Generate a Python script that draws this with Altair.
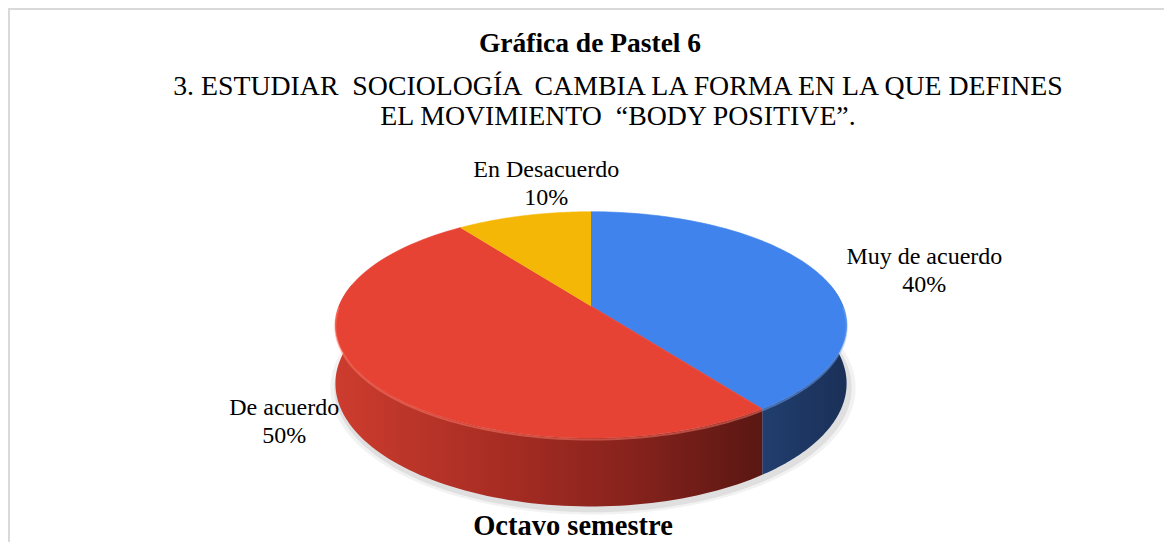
import altair as alt
import pandas as pd

# ---- data ----
categories = ["Muy de acuerdo", "De acuerdo", "En Desacuerdo"]
percentages = [40, 50, 10]
top_colors = ["#4083ED", "#E74335", "#F5B705"]
side_fills = [
    alt.LinearGradient(gradient="linear", x1=0, x2=1, y1=0, y2=0,
                       stops=[alt.GradientStop(color="#213E6E", offset=0),
                              alt.GradientStop(color="#1A3058", offset=1)]),
    alt.LinearGradient(gradient="linear", x1=0, x2=1, y1=0, y2=0,
                       stops=[alt.GradientStop(color="#CC3C2E", offset=0),
                              alt.GradientStop(color="#AB2E24", offset=0.35),
                              alt.GradientStop(color="#86221C", offset=0.7),
                              alt.GradientStop(color="#5A1713", offset=1)]),
    alt.LinearGradient(gradient="linear", x1=0, x2=1, y1=0, y2=0,
                       stops=[alt.GradientStop(color="#C99204", offset=0),
                              alt.GradientStop(color="#8F6703", offset=1)]),
]
rim_colors = ["#6FA3F5", "#FF7B6B", "#FFD25A"]

title_text = "Gráfica de Pastel 6"
NB = "\u00a0"
subtitle_line1 = f"3. ESTUDIAR {NB}SOCIOLOGÍA {NB}CAMBIA LA FORMA EN LA QUE DEFINES"
subtitle_line2 = f"EL MOVIMIENTO {NB}“BODY POSITIVE”."
footer_text = "Octavo semestre"

# ---- geometry / layout constants ----
W, H = 1156, 534
CX, CY, RX, RY, DEPTH, P = 583, 298, 252, 110, 57, 0.167
N = 90
SERIF = "Liberation Serif, Times New Roman, serif"

df = pd.DataFrame({"cat": categories, "pct": percentages, "idx": list(range(len(categories)))})
one = pd.DataFrame({"z": [0]})

xs = alt.Scale(domain=[0, W], nice=False, zero=False)
ys = alt.Scale(domain=[0, H], nice=False, zero=False, reverse=True)

base = (
    alt.Chart(df)
    .transform_window(cum="sum(pct)", sort=[alt.SortField("idx")], frame=[None, 0])
    .transform_joinaggregate(total="sum(pct)")
    .transform_calculate(
        a0="2*PI*(datum.cum - datum.pct)/datum.total",
        a1="2*PI*datum.cum/datum.total",
    )
)

S_EXPR = f"1/(1 + {P}*cos(datum.ang))"  # perspective factor


def enc(ch):
    return ch.encode(
        x=alt.X("px:Q", scale=xs, axis=None),
        y=alt.Y("py:Q", scale=ys, axis=None),
        order=alt.Order("k:Q"),
    )


layers = []

# soft shadow under the pie
for off, op in [(7, 0.05), (3, 0.08)]:
    sh = (
        base.transform_filter("datum.idx == 0")
        .transform_calculate(k=f"sequence(0, {2 * N + 1})")
        .transform_flatten(["k"])
        .transform_calculate(ang=f"2*PI*datum.k/{2 * N}")
        .transform_calculate(s=S_EXPR)
        .transform_calculate(
            px=f"{CX + 2} + {RX + off}*sin(datum.ang)*datum.s",
            py=f"{CY + 4} - {RY + off * 0.5}*cos(datum.ang)*datum.s + {DEPTH}*datum.s",
        )
        .mark_line(fill="#000000", fillOpacity=op, strokeWidth=0)
    )
    layers.append(enc(sh))

# side walls (front part only)
for c, f in zip(categories, side_fills):
    side = (
        base.transform_filter(alt.datum.cat == c)
        .transform_calculate(
            s0="max(datum.a0, PI/2 - 0.2)",
            s1="min(datum.a1, 3*PI/2 + 0.2)",
        )
        .transform_filter("datum.s1 > datum.s0")
        .transform_calculate(k=f"sequence(0, {2 * N + 2})")
        .transform_flatten(["k"])
        .transform_calculate(
            ang=f"datum.k <= {N} ? datum.s0 + (datum.s1 - datum.s0)*datum.k/{N} : "
                f"datum.s1 - (datum.s1 - datum.s0)*(datum.k - {N + 1})/{N}",
        )
        .transform_calculate(s=S_EXPR)
        .transform_calculate(
            px=f"{CX} + {RX}*sin(datum.ang)*datum.s",
            py=f"{CY} - {RY}*cos(datum.ang)*datum.s + (datum.k <= {N} ? 0 : {DEPTH}*datum.s)",
        )
        .mark_line(fill=f, strokeWidth=0)
    )
    layers.append(enc(side))

# top faces
for c, col in zip(categories, top_colors):
    top = (
        base.transform_filter(alt.datum.cat == c)
        .transform_calculate(k=f"sequence(-1, {N + 1})")
        .transform_flatten(["k"])
        .transform_calculate(ang=f"datum.a0 + (datum.a1 - datum.a0)*max(datum.k, 0)/{N}")
        .transform_calculate(s=S_EXPR)
        .transform_calculate(
            px=f"datum.k < 0 ? {CX} : {CX} + {RX}*sin(datum.ang)*datum.s",
            py=f"datum.k < 0 ? {CY} : {CY} - {RY}*cos(datum.ang)*datum.s",
        )
        .mark_line(fill=col, stroke=col, strokeWidth=0.6)
    )
    layers.append(enc(top))

# rim highlight on the front edge
for c, col in zip(categories, rim_colors):
    rim = (
        base.transform_filter(alt.datum.cat == c)
        .transform_calculate(
            s0="max(datum.a0, PI/2)",
            s1="min(datum.a1, 3*PI/2)",
        )
        .transform_filter("datum.s1 > datum.s0")
        .transform_calculate(k=f"sequence(0, {N + 1})")
        .transform_flatten(["k"])
        .transform_calculate(ang=f"datum.s0 + (datum.s1 - datum.s0)*datum.k/{N}")
        .transform_calculate(s=S_EXPR)
        .transform_calculate(
            px=f"{CX} + {RX}*sin(datum.ang)*datum.s",
            py=f"{CY} - {RY}*cos(datum.ang)*datum.s + 1.5",
        )
        .mark_line(stroke=col, strokeWidth=2, strokeOpacity=0.5)
    )
    layers.append(enc(rim))

# data labels
lab = (
    base.transform_calculate(ang="(datum.a0 + datum.a1)/2")
    .transform_calculate(s=S_EXPR)
    .transform_calculate(
        px=f"{CX} + {RX}*1.41*sin(datum.ang)*datum.s",
        py=f"{CY} - {RY}*1.45*cos(datum.ang)*datum.s",
        label="[datum.cat, datum.pct + '%']",
    )
)
lab_style = dict(font=SERIF, fontSize=24, lineHeight=28, align="center",
                 baseline="middle", color="#000000")
lab_enc = dict(x=alt.X("px:Q", scale=xs, axis=None),
               y=alt.Y("py:Q", scale=ys, axis=None), text="label:N")
lab_big = lab.transform_filter("datum.pct >= 15").mark_text(dx=12, dy=-2, **lab_style).encode(**lab_enc)
lab_small = lab.transform_filter("datum.pct < 15").mark_text(dx=50, dy=-5, **lab_style).encode(**lab_enc)
layers += [lab_big, lab_small]


# titles
def text_layer(txt, x, y, size, weight="normal"):
    return alt.Chart(pd.DataFrame({"t": [txt]})).mark_text(
        font=SERIF, fontSize=size, fontWeight=weight, align="center",
        baseline="alphabetic", color="#000000",
    ).encode(x=alt.value(x), y=alt.value(y), text="t:N")


layers += [
    text_layer(title_text, 582, 44, 27.5, "bold"),
    text_layer(subtitle_line1, 610, 87, 27.8),
    text_layer(subtitle_line2, 610, 117, 27.8),
    text_layer(footer_text, 565, 527, 28.5, "bold"),
]

# frame (top and left edges visible)
frame_top = alt.Chart(one).mark_rule(color="#D9D9D9", strokeWidth=2).encode(
    x=alt.value(0), x2=alt.value(W), y=alt.value(1))
frame_left = alt.Chart(one).mark_rule(color="#D9D9D9", strokeWidth=2).encode(
    x=alt.value(1), y=alt.value(0), y2=alt.value(H))
layers += [frame_top, frame_left]

chart = (
    alt.layer(*layers)
    .properties(width=W, height=H, padding=0, autosize=alt.AutoSizeParams(type="none"))
    .configure_view(strokeWidth=0, strokeOpacity=0)
    .configure(background="#FFFFFF")
)

chart.save("out.html", embed_options={"renderer": "svg", "actions": False})
